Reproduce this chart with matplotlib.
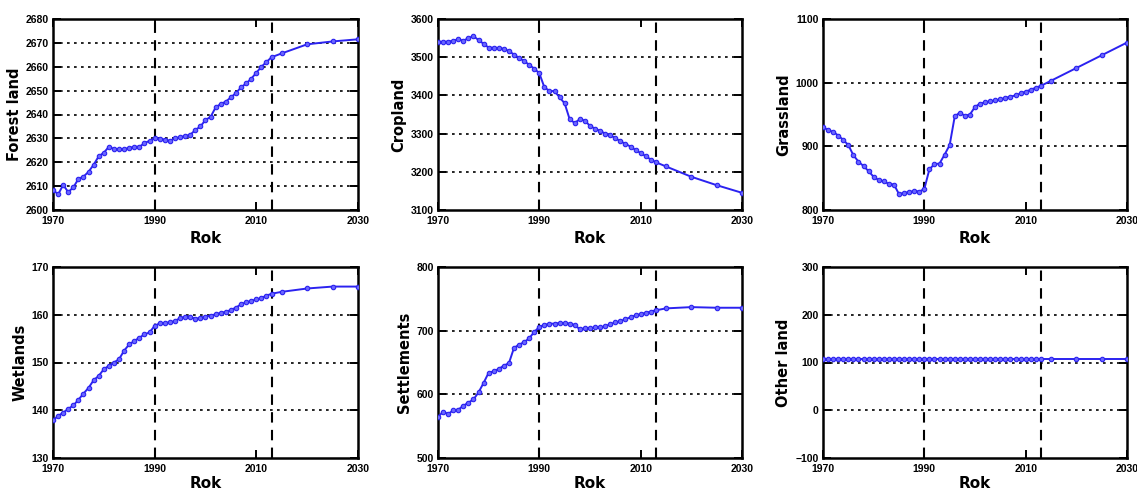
import matplotlib
matplotlib.use("Agg")
import matplotlib.pyplot as plt

years = list(range(1970, 2014)) + [2015, 2020, 2025, 2030]

forest = [2608.5, 2606.5, 2610.5, 2607.5, 2609.5, 2613, 2614, 2616, 2619, 2622.5,
          2624, 2626.5, 2625.5, 2625.5, 2625.5, 2626, 2626.5, 2626.5, 2628, 2629,
          2630, 2629.8, 2629.5, 2629, 2630, 2630.5, 2631, 2631.5, 2633.5, 2635,
          2637.7, 2639, 2643, 2644.4, 2645.4, 2647.2, 2649, 2651.4, 2653, 2655,
          2657.5, 2660, 2662, 2664, 2665.6, 2669.4, 2670.6, 2671.5]

cropland = [3541, 3540, 3541, 3543, 3547, 3543, 3550, 3555, 3545, 3535,
            3525, 3525, 3524, 3522, 3516, 3507, 3498, 3490, 3480, 3470,
            3458, 3421, 3412, 3411, 3395, 3379, 3337, 3328, 3338, 3334,
            3320, 3313, 3307, 3300, 3296, 3288, 3280, 3273, 3266, 3257,
            3249, 3241, 3232, 3225, 3214, 3187, 3165, 3145]

grassland = [931, 925, 923, 917, 910, 902, 886, 876, 869, 861,
             852, 847, 845, 841, 840, 825, 827, 828, 830, 829,
             833, 864, 872, 873, 887, 902, 947, 953, 948, 950,
             962, 967, 969, 971, 972, 974, 976, 978, 980, 983,
             986, 989, 992, 995, 1003, 1023, 1043, 1063]

wetlands = [137.9, 138.8, 139.5, 140.3, 141, 142.2, 143.5, 144.7, 146.3, 147.2,
            148.6, 149.3, 150, 150.7, 152.5, 153.8, 154.5, 155.2, 155.9, 156.3,
            157.7, 158.2, 158.3, 158.4, 158.7, 159.3, 159.6, 159.6, 159.1, 159.4,
            159.6, 159.8, 160.1, 160.4, 160.6, 161, 161.5, 162.2, 162.6, 162.9,
            163.2, 163.5, 164, 164.4, 164.8, 165.5, 165.9, 165.9]

settlements = [564, 573, 569, 575, 576, 582, 587, 592, 603, 618,
               634, 636, 640, 645, 649, 673, 678, 682, 688, 698,
               706, 709, 711, 711, 712, 712, 711, 709, 702, 704,
               704, 705, 705, 707, 710, 713, 715, 718, 721, 724,
               726, 728, 730, 732, 735, 737, 736, 736]

other = [107] * len(years)

labels = ["Forest land", "Cropland", "Grassland", "Wetlands", "Settlements", "Other land"]
series = [forest, cropland, grassland, wetlands, settlements, other]
ylims = [(2600, 2680), (3100, 3600), (800, 1100), (130, 170), (500, 800), (-100, 300)]
ysteps = [10, 100, 100, 10, 100, 100]
xticks = [1970, 1990, 2010, 2030]
vlines = [1990, 2013]

W, H = 1137, 492
fig = plt.figure(figsize=(W / 100, H / 100), dpi=100)

lefts = [53, 438, 823]
widths = [305, 304, 304]
tops = [19, 267]
height = 191

line_color = "#2b22f0"
tick_font = {"family": "Liberation Sans", "weight": "bold", "size": 7.5}

for i, (lab, vals, yl, st) in enumerate(zip(labels, series, ylims, ysteps)):
    r, c = divmod(i, 3)
    ax = fig.add_axes([lefts[c] / W, 1 - (tops[r] + height) / H, widths[c] / W, height / H])
    ax.set_xlim(1970, 2030)
    ax.set_ylim(*yl)
    yt = list(range(yl[0], yl[1] + 1, st))
    ax.set_yticks(yt)
    ax.set_xticks(xticks)
    for y in yt[1:-1]:
        ax.axhline(y, color="black", linestyle=(0, (1.6, 2.6)), linewidth=1.2, zorder=1)
    for x in vlines:
        ax.axvline(x, color="black", linestyle=(0, (5, 3.5)), linewidth=1.5, zorder=1)
    ax.plot(years, vals, color=line_color, linewidth=1.4, marker="o", markersize=3.2,
            markerfacecolor="#6a66ff", markeredgecolor=line_color, markeredgewidth=0.8, zorder=3)
    ax.tick_params(direction="in", top=True, right=True, length=6, width=1.4, pad=3)
    ax.tick_params(axis="x", pad=4)
    for t in ax.get_xticklabels() + ax.get_yticklabels():
        t.set_fontproperties(tick_font)
    for s in ax.spines.values():
        s.set_linewidth(1.8)
    ax.set_xlabel("Rok", fontsize=11, fontweight="bold", labelpad=4 if r == 0 else 2)
    ax.set_ylabel(lab, fontsize=10.5, fontweight="bold", labelpad=3)

fig.savefig("out.png", dpi=100)
